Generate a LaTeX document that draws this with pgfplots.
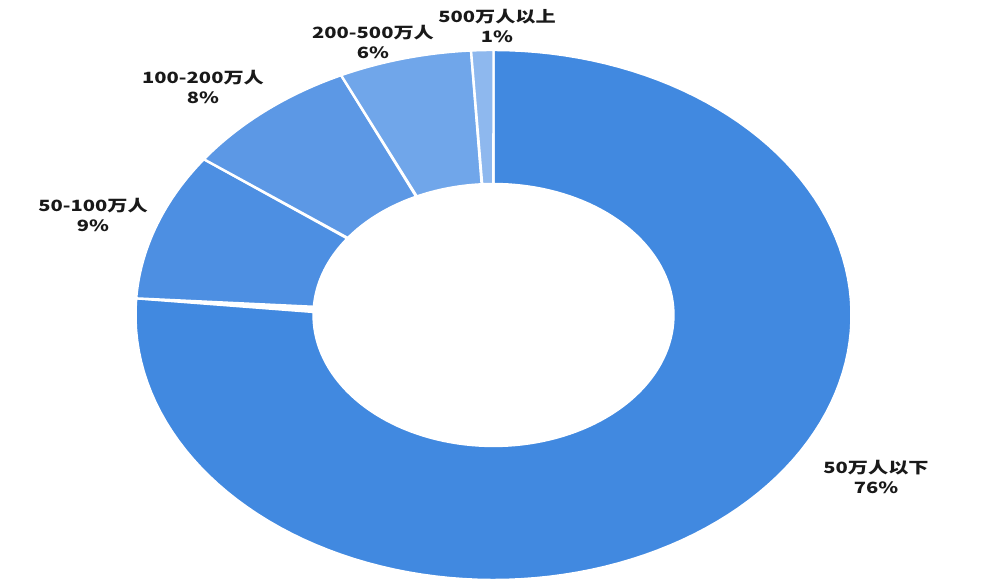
\documentclass[border=0pt]{standalone}
\usepackage{pgfplots}
\pgfplotsset{compat=1.18}
\usepackage{fontspec}
\newfontfamily\cjk{Noto Sans CJK SC}
\definecolor{c1}{RGB}{65,137,224}
\definecolor{c2}{RGB}{77,143,226}
\definecolor{c3}{RGB}{92,152,229}
\definecolor{c4}{RGB}{112,166,234}
\definecolor{c5}{RGB}{142,184,238}
\definecolor{txt}{RGB}{25,25,25}
% slice from cumulative percent #1 to #2 (clockwise from top)
\newcommand\slice[3]{%
\addplot[fill=#3, draw=white, line width=2.4pt, line join=round, samples=241, domain=0:2, variable=\t]
 ({493.5+((\t<=1) ? 358 : 180)*cos(90-3.6*((\t<=1) ? (#1+(#2-#1)*\t) : (#2+(#1-#2)*(\t-1))))},
  {270+((\t<=1) ? 265 : 131)*sin(90-3.6*((\t<=1) ? (#1+(#2-#1)*\t) : (#2+(#1-#2)*(\t-1))))}) -- cycle;}
\newcommand\lab[3]{\node[font=\cjk\bfseries\fontsize{15.5}{20}\selectfont, text=txt, align=center, xscale=1.3, inner sep=0pt] at (axis cs:#1,#2) {#3};}
\begin{document}
\begin{tikzpicture}
\begin{axis}[width=992pt, height=585pt, scale only axis, xmin=0, xmax=992, ymin=0, ymax=585, hide axis, clip=false]
\path (axis cs:0,0) rectangle (axis cs:992,585);
\slice{0}{76}{c1}
\slice{76}{85}{c2}
\slice{85}{93}{c3}
\slice{93}{99}{c4}
\slice{99}{100}{c5}
\lab{497}{559}{500万人以上\\1\%}
\lab{373}{543}{200-500万人\\6\%}
\lab{203}{498}{100-200万人\\8\%}
\lab{93}{370}{50-100万人\\9\%}
\lab{876}{108}{50万人以下\\76\%}
\end{axis}
\end{tikzpicture}
\end{document}
